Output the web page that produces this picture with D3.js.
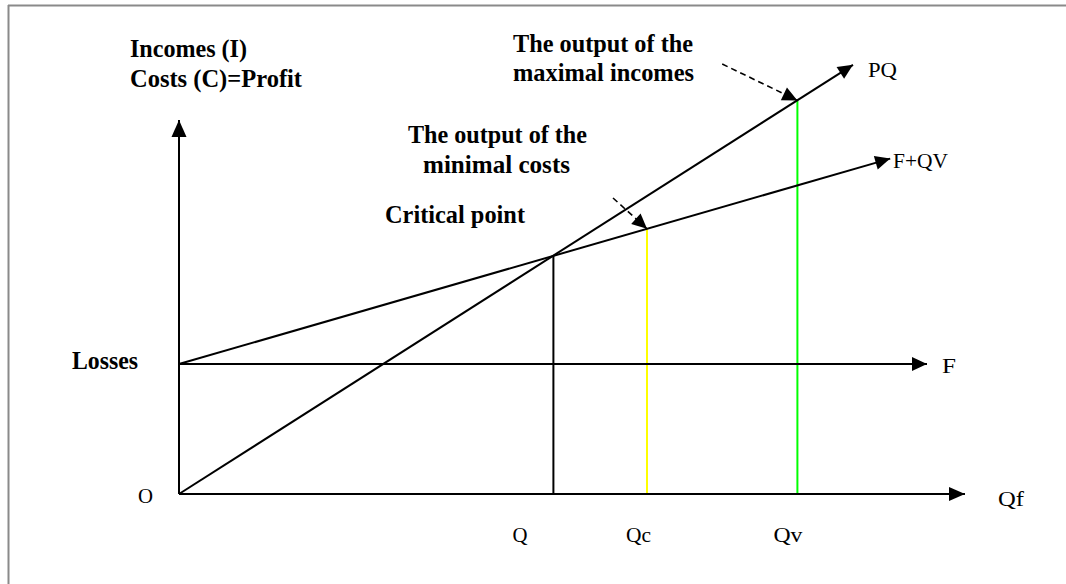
<!DOCTYPE html>
<html><head><meta charset="utf-8">
<script src="https://cdn.jsdelivr.net/npm/d3@7"></script>
<style>body{margin:0;background:#fff;} svg{display:block;}</style>
</head><body><svg id="c" width="1066" height="584"></svg>
<script>
// ---- data (chart units) ----
const fixedCost = 32.5;
const pqLine = [[0, 0], [84.25, 107.3]];          // incomes PQ
const costLine = [[0, 32.5], [88.9, 83.85]];      // costs F+QV
const fixedLine = [[0, 32.5], [93.5, 32.5]];      // fixed costs F
const xAxisEnd = 98.25;
const yAxisEnd = 93.5;
const markLabels = ["Q", "Qc", "Qv"];
const markValues = [46.8, 58.5, 77.3];
const markTops = [59.6, 66.3, 98.4];
const markColors = ["#000000", "#ffff00", "#00ff00"];
const pointerStarts = [[67.9, 107.5], [54.25, 74]];
const pointerEnds = [[77.3, 98.4], [58.5, 66.3]];

// ---- scales ----
const x = d3.scaleLinear().domain([0, 100]).range([179, 979]);
const y = d3.scaleLinear().domain([0, 100]).range([494, 94]);

const svg = d3.select("#c");

// frame (top + left)
svg.append("line").attr("x1", 8).attr("x2", 1066).attr("y1", 5.5).attr("y2", 5.5)
  .attr("stroke", "#8a8a8a").attr("stroke-width", 2);
svg.append("line").attr("x1", 8.5).attr("x2", 8.5).attr("y1", 5).attr("y2", 584)
  .attr("stroke", "#8a8a8a").attr("stroke-width", 2);

function arrowHead(x1, y1, x2, y2, len = 15, hw = 7) {
  const a = Math.atan2(y2 - y1, x2 - x1);
  const bx = x2 - len * Math.cos(a), by = y2 - len * Math.sin(a);
  const nx = -Math.sin(a) * hw, ny = Math.cos(a) * hw;
  svg.append("path")
    .attr("d", `M${x2},${y2}L${bx + nx},${by + ny}L${bx - nx},${by - ny}Z`)
    .attr("fill", "#000");
}
function arrowLine(p0, p1, opts = {}) {
  const [x1, y1, x2, y2] = [x(p0[0]), y(p0[1]), x(p1[0]), y(p1[1])];
  const l = svg.append("line").attr("x1", x1).attr("y1", y1).attr("x2", x2).attr("y2", y2)
    .attr("stroke", "#000").attr("stroke-width", opts.w || 2);
  if (opts.dash) l.attr("stroke-dasharray", opts.dash);
  arrowHead(x1, y1, x2, y2, opts.len || 15, opts.hw || 7);
}

// vertical marker lines
markValues.forEach((v, i) => {
  svg.append("line").attr("x1", x(v)).attr("x2", x(v))
    .attr("y1", y(0)).attr("y2", y(markTops[i]))
    .attr("stroke", markColors[i]).attr("stroke-width", 2);
});

// axes
arrowLine([0, 0], [xAxisEnd, 0], {len: 16, hw: 7});
arrowLine([0, 0], [0, yAxisEnd], {len: 17, hw: 7.5});

// lines
arrowLine(fixedLine[0], fixedLine[1]);
arrowLine(costLine[0], costLine[1]);
arrowLine(pqLine[0], pqLine[1]);

// dashed pointers
pointerStarts.forEach((s, i) => arrowLine(s, pointerEnds[i], {w: 1.6, dash: "6,4", len: 15, hw: 7}));

// text
function label(t, px, py, bold, w) {
  svg.append("text").attr("x", px).attr("y", py).text(t)
    .attr("font-family", "'Liberation Serif','Times New Roman',serif")
    .attr("font-size", bold ? 26 : 22)
    .attr("font-weight", bold ? "bold" : "normal")
    .attr("fill", "#000")
    .attr("textLength", w).attr("lengthAdjust", "spacingAndGlyphs");
}
label("Incomes (I)", 130, 57, true, 117);
label("Costs (C)=Profit", 130, 87, true, 172);
label("The output of the", 513, 52, true, 180);
label("maximal incomes", 513, 81, true, 181);
label("The output of the", 408, 143, true, 179);
label("minimal costs", 423, 173, true, 147);
label("Critical point", 385, 223, true, 140);
label("Losses", 72, 369, true, 66);

label("PQ", 868, 77, false, 29);
label("F+QV", 893, 168, false, 55);
label("F", 942, 373, false, 14);
label("Qf", 998, 506, false, 26);
label("O", 138, 503, false, 15);
const labelOffsets = [-41, -21, -24];
const labelWidths = [15, 25, 29];
markLabels.forEach((t, i) => label(t, x(markValues[i]) + labelOffsets[i], 542, false, labelWidths[i]));
</script>
</body></html>
